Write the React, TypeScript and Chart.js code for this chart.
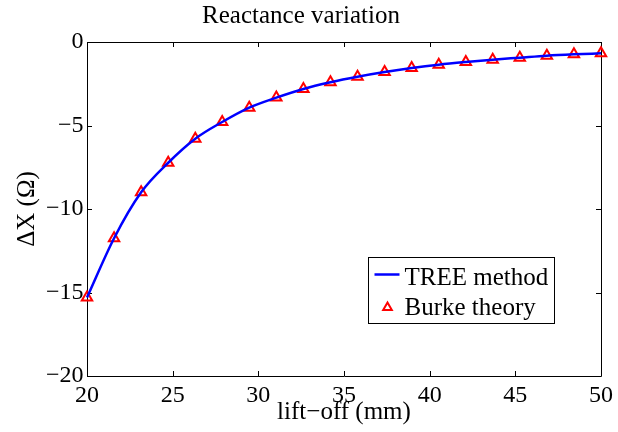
import React, { useEffect, useRef } from 'react';
import { Chart, registerables } from 'chart.js';

Chart.register(...registerables);

// ---- data ----
const liftOff = [20, 21.58, 23.16, 24.74, 26.32, 27.89, 29.47, 31.05, 32.63, 34.21, 35.79, 37.37, 38.95, 40.53, 42.11, 43.68, 45.26, 46.84, 48.42, 50];
const treeMethod = [-15.3, -11.75, -9.0, -7.23, -5.79, -4.79, -3.93, -3.33, -2.81, -2.41, -2.08, -1.8, -1.56, -1.36, -1.2, -1.06, -0.94, -0.82, -0.74, -0.68];
const burkeTheory = [-15.3, -11.75, -9.0, -7.23, -5.79, -4.79, -3.93, -3.33, -2.81, -2.41, -2.08, -1.8, -1.56, -1.36, -1.2, -1.06, -0.94, -0.82, -0.74, -0.68];
const xTicks = [20, 25, 30, 35, 40, 45, 50];
const yTicks = [-20, -15, -10, -5, 0];
const seriesNames = ['TREE method', 'Burke theory'];
const titleText = 'Reactance variation';
const xTitle = 'lift\u2212off (mm)';
const yTitle = '\u0394X (\u03A9)';

const FONT = "'Liberation Serif', 'Times New Roman', serif";
Chart.defaults.font.family = FONT;
Chart.defaults.color = '#000';

const fmt = (v: number) => String(v).replace('-', '\u2212');

const framePlugin = {
  id: 'frame',
  beforeDatasetsDraw(chart: any) {
    const { ctx, chartArea: a, scales } = chart;
    ctx.save();
    ctx.strokeStyle = '#000';
    ctx.lineWidth = 1;
    ctx.beginPath();
    ctx.rect(Math.round(a.left) + 0.5, Math.round(a.top) + 0.5, Math.round(a.right - a.left), Math.round(a.bottom - a.top));
    ctx.stroke();
    const len = 5;
    ctx.beginPath();
    for (const v of xTicks) {
      const x = Math.round(scales.x.getPixelForValue(v)) + 0.5;
      ctx.moveTo(x, a.bottom);
      ctx.lineTo(x, a.bottom - len);
      ctx.moveTo(x, a.top);
      ctx.lineTo(x, a.top + len);
    }
    for (const v of yTicks) {
      const y = Math.round(scales.y.getPixelForValue(v)) + 0.5;
      ctx.moveTo(a.left, y);
      ctx.lineTo(a.left + len, y);
      ctx.moveTo(a.right, y);
      ctx.lineTo(a.right - len, y);
    }
    ctx.stroke();
    ctx.restore();
  },
};

const legendPlugin = {
  id: 'boxLegend',
  afterDraw(chart: any) {
    const { ctx, chartArea: a } = chart;
    const ds = chart.data.datasets;
    const w = 186;
    const h = 66;
    const x0 = Math.round(a.right - 233) + 0.5;
    const y0 = Math.round(a.bottom - 119) + 0.5;
    ctx.save();
    ctx.fillStyle = '#fff';
    ctx.fillRect(x0, y0, w, h);
    ctx.strokeStyle = '#000';
    ctx.lineWidth = 1;
    ctx.strokeRect(x0, y0, w, h);
    // line sample
    ctx.strokeStyle = ds[0].borderColor;
    ctx.lineWidth = ds[0].borderWidth;
    ctx.beginPath();
    ctx.moveTo(x0 + 6, y0 + 17);
    ctx.lineTo(x0 + 31, y0 + 17);
    ctx.stroke();
    // triangle sample
    const cx = x0 + 19;
    const cy = y0 + 50;
    const r = 5;
    ctx.strokeStyle = ds[1].pointBorderColor;
    ctx.lineWidth = ds[1].pointBorderWidth;
    ctx.beginPath();
    ctx.moveTo(cx, cy - r);
    ctx.lineTo(cx + r * 0.866, cy + r / 2);
    ctx.lineTo(cx - r * 0.866, cy + r / 2);
    ctx.closePath();
    ctx.stroke();
    // texts
    ctx.fillStyle = '#000';
    ctx.font = `25px ${FONT}`;
    ctx.textBaseline = 'alphabetic';
    ctx.textAlign = 'left';
    ctx.fillText(ds[0].label, x0 + 36, y0 + 27);
    ctx.fillText(ds[1].label, x0 + 36, y0 + 57);
    ctx.restore();
  },
};

export default function App() {
  const ref = useRef<HTMLCanvasElement | null>(null);
  useEffect(() => {
    if (!ref.current) return;
    const chart = new Chart(ref.current, {
      type: 'line',
      data: {
        datasets: [
          {
            label: seriesNames[0],
            data: liftOff.map((x, i) => ({ x, y: treeMethod[i] })),
            borderColor: '#0000FF',
            borderWidth: 2.5,
            pointRadius: 0,
            cubicInterpolationMode: 'monotone',
            fill: false,
            clip: false,
          } as any,
          {
            label: seriesNames[1],
            data: liftOff.map((x, i) => ({ x, y: burkeTheory[i] })),
            showLine: false,
            pointStyle: 'triangle',
            pointRadius: 6,
            pointBorderWidth: 2,
            pointBorderColor: '#FF0000',
            pointBackgroundColor: 'rgba(0,0,0,0)',
            borderColor: '#FF0000',
            clip: false,
          } as any,
        ],
      },
      options: {
        responsive: false,
        animation: false,
        devicePixelRatio: 1,
        layout: { padding: { left: 0, right: 16, top: 0, bottom: 0 } },
        plugins: {
          legend: { display: false },
          tooltip: { enabled: false },
          title: {
            display: true,
            text: titleText,
            color: '#000',
            font: { family: FONT, size: 25, weight: 'normal' },
            padding: { top: 1, bottom: 11 },
          },
        },
        scales: {
          x: {
            type: 'linear',
            min: 20,
            max: 50,
            afterBuildTicks: (s: any) => {
              s.ticks = xTicks.map((v) => ({ value: v }));
            },
            afterFit: (s: any) => {
              s.height = 56;
            },
            grid: { display: false, drawTicks: false },
            border: { display: false },
            ticks: {
              autoSkip: false,
              maxRotation: 0,
              padding: 5,
              color: '#000',
              font: { family: FONT, size: 24 },
              callback: (v: any) => fmt(v),
            },
            title: {
              display: true,
              text: xTitle,
              color: '#000',
              font: { family: FONT, size: 25 },
              padding: { top: 0, bottom: 4.5 },
            },
          },
          y: {
            type: 'linear',
            min: -20,
            max: 0,
            afterBuildTicks: (s: any) => {
              s.ticks = yTicks.map((v) => ({ value: v }));
            },
            afterFit: (s: any) => {
              s.width = 87;
            },
            grid: { display: false, drawTicks: false },
            border: { display: false },
            ticks: {
              autoSkip: false,
              padding: 3.5,
              color: '#000',
              font: { family: FONT, size: 24 },
              callback: (v: any) => fmt(v),
            },
            title: {
              display: true,
              text: yTitle,
              color: '#000',
              font: { family: FONT, size: 25 },
              padding: { top: 12, bottom: 0 },
            },
          },
        },
      } as any,
      plugins: [framePlugin, legendPlugin],
    });
    return () => chart.destroy();
  }, []);
  return (
    <div style={{ position: 'fixed', left: 0, top: 0, width: 618, height: 432, background: '#fff' }}>
      <canvas ref={ref} width={618} height={432} />
    </div>
  );
}
